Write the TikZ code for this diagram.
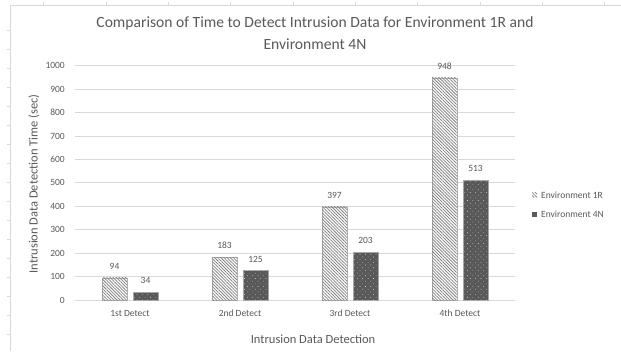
\documentclass[tikz,border=0pt]{standalone}
\usepackage{fontspec}
\setmainfont{Carlito}
\usetikzlibrary{patterns.meta}
\definecolor{txtgray}{HTML}{595959}
\definecolor{gridgray}{HTML}{D9D9D9}
\definecolor{darkbar}{HTML}{595959}
\tikzset{
  gridline/.style={gridgray, line width=0.8pt},
  hatchbar/.style={draw=gray!60, line width=0.4pt, fill=white,
    postaction={pattern={Lines[angle=-45, distance=2.2pt, line width=0.75pt]}, pattern color=gray},
  },
  dotbar/.style={draw=gray!70, line width=0.5pt, fill=darkbar,
    postaction={pattern={Dots[angle=45, distance=3.8pt, radius=0.45pt]}, pattern color=white!80!darkbar}},
  ticklbl/.style={text=txtgray, font=\fontsize{9.5}{11}\selectfont, inner sep=0pt},
  vallbl/.style={text=txtgray, font=\fontsize{9.5}{11}\selectfont, inner sep=0pt},
}
\begin{document}
\begin{tikzpicture}[x=1pt, y=-1pt]
  \useasboundingbox[fill=white] (0,0) rectangle (621,351);

  % sheet frame
  \draw[gridgray, line width=0.8pt] (10,351) -- (10,5) -- (621,5);
  \foreach \k in {0,...,9} \draw[gridgray] (43.6+62.3*\k,5) -- (43.6+62.3*\k,2);
  \foreach \k in {0,...,16} \draw[gridgray] (10,30+19*\k) -- (7,30+19*\k);

  % title
  \node[text=txtgray, font=\fontsize{15.6}{21.5}\selectfont, align=center] (title) at (315,33)
    {Comparison of Time to Detect Intrusion Data for Environment 1R and\\Environment 4N};

  % grid and y ticks
  \foreach \k in {0,...,10} {
    \draw[gridline] (75,300-23.43*\k) -- (515,300-23.43*\k);
    \pgfmathtruncatemacro\tv{100*\k}
    \node[ticklbl, anchor=east] (tick\k) at (65,300-23.43*\k) {\tv};
  }

  % bars
  \foreach \va/\vb/\cat [count=\i] in {94/34/1st, 183/125/2nd, 397/203/3rd, 948/513/4th} {
    \pgfmathsetmacro\cx{20+110*\i}
    \draw[hatchbar] (\cx-28,300) rectangle (\cx-3,300-0.2343*\va);
    \draw[dotbar] (\cx+3,300) rectangle (\cx+28,300-0.2343*\vb);
    \node[vallbl] (valA\i) at (\cx-15.5,288.5-0.2343*\va) {\va};
    \node[vallbl] (valB\i) at (\cx+15.5,288.5-0.2343*\vb) {\vb};
    \node[ticklbl] (cat\i) at (\cx,313.5) {\cat\ Detect};
  }

  % axis titles
  \node[text=txtgray, font=\fontsize{12.5}{14}\selectfont, rotate=90] (ytitle) at (34,184)
    {Intrusion Data Detection Time (sec)};
  \node[text=txtgray, font=\fontsize{12.5}{14}\selectfont] (xtitle) at (313,339)
    {Intrusion Data Detection};

  % legend
  \draw[hatchbar, draw=none] (532,192.5) rectangle (537,197.5);
  \node[ticklbl, anchor=west] (legA) at (541,195.5) {Environment 1R};
  \fill[darkbar] (532,211.5) rectangle (537,216.5);
  \node[ticklbl, anchor=west] (legB) at (541,214) {Environment 4N};
\end{tikzpicture}
\end{document}
